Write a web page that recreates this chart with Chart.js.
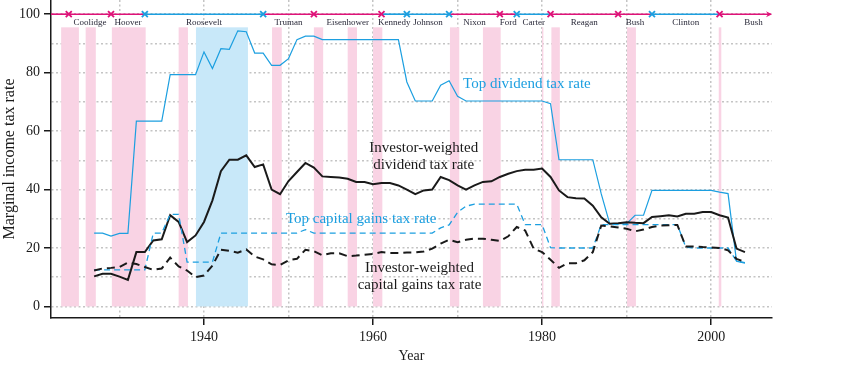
<!DOCTYPE html>
<html>
<head>
<meta charset="utf-8">
<script src="https://cdn.jsdelivr.net/npm/chart.js@4.4.1/dist/chart.umd.min.js"></script>
<style>
  html, body { margin: 0; padding: 0; background: #fff; }
  #wrap { width: 853px; height: 375px; }
</style>
</head>
<body>
<div id="wrap"><canvas id="taxChart" width="853" height="375"></canvas></div>
<script>
// --- data ---
const years = [1927, 1928, 1929, 1930, 1931, 1932, 1933, 1934, 1935, 1936,
  1937, 1938, 1939, 1940, 1941, 1942, 1943, 1944, 1945, 1946,
  1947, 1948, 1949, 1950, 1951, 1952, 1953, 1954, 1955, 1956,
  1957, 1958, 1959, 1960, 1961, 1962, 1963, 1964, 1965, 1966,
  1967, 1968, 1969, 1970, 1971, 1972, 1973, 1974, 1975, 1976,
  1977, 1978, 1979, 1980, 1981, 1982, 1983, 1984, 1985, 1986,
  1987, 1988, 1989, 1990, 1991, 1992, 1993, 1994, 1995, 1996,
  1997, 1998, 1999, 2000, 2001, 2002, 2003, 2004];

const topDividend = [25.1, 25.1, 24.1, 25, 25, 63.4, 63.4, 63.4, 63.4, 79.3,
  79.3, 79.3, 79.3, 87.1, 81.4, 88.2, 88, 94.3, 94, 86.7,
  86.7, 82.5, 82.5, 84.8, 91.3, 92.5, 92.5, 91.3, 91.3, 91.3,
  91.3, 91.3, 91.3, 91.3, 91.3, 91.3, 91.3, 76.8, 70.3, 70.3,
  70.3, 75.7, 77.2, 71.9, 70.3, 70.3, 70.3, 70.3, 70.3, 70.3,
  70.3, 70.3, 70.3, 70.3, 69.4, 50.2, 50.2, 50.2, 50.2, 50.2,
  38.5, 28.3, 28.3, 28.3, 31.2, 31.2, 39.7, 39.7, 39.7, 39.7,
  39.7, 39.7, 39.7, 39.7, 39.1, 38.6, 15.5, 14.8];

const topCapGains = [12.5, 12.5, 12.5, 12.5, 12.5, 12.5, 12.5, 25.1, 25.1, 31.5,
  31.5, 15.2, 15.2, 15.2, 15.2, 25.1, 25.1, 25.1, 25.1, 25.1,
  25.1, 25.1, 25.1, 25.1, 25.1, 26.3, 25.1, 25.1, 25.1, 25.1,
  25.1, 25.1, 25.1, 25.1, 25.1, 25.1, 25.1, 25.1, 25.1, 25.1,
  25.1, 26.9, 27.9, 32.2, 34.3, 35, 35, 35, 35, 35,
  35, 28, 28, 28, 20.1, 20, 20, 20, 20, 20,
  28, 28, 28, 28, 28, 28, 28, 28, 28, 28,
  20.3, 20, 20, 20, 20, 20, 15.5, 15];

const invDividend = [10.3, 11.2, 11.2, 10.2, 9.1, 18.6, 18.6, 22.6, 23, 31.2,
  28.9, 22, 24.3, 28.9, 36.3, 46.3, 50.2, 50.2, 51.7, 47.7,
  48.6, 40, 38.4, 42.9, 46, 49.1, 47.5, 44.5, 44.3, 44.1,
  43.7, 42.6, 42.6, 41.8, 42.2, 42.2, 41.4, 40, 38.4, 39.7,
  40, 44.3, 43.2, 41.4, 40, 41.4, 42.6, 42.8, 44.3, 45.4,
  46.3, 46.8, 46.8, 47.2, 44.3, 39.7, 37.4, 37, 36.9, 34.5,
  30.5, 28.3, 28.5, 28.8, 28.6, 28.5, 30.6, 30.9, 31.2, 30.8,
  31.7, 31.7, 32.3, 32.3, 31.2, 30.4, 19.8, 18.6];

const invCapGains = [12.3, 13, 13.2, 13.5, 15, 14.5, 13.5, 12.5, 13, 16.7,
  13.7, 12.3, 10, 10.6, 14, 19.4, 19, 18.4, 19.5, 17.1,
  16.1, 14.4, 14.2, 15.8, 16.3, 19.4, 18.9, 17.5, 18.2, 18.2,
  17.2, 17.4, 17.7, 18, 18.6, 18.3, 18.3, 18.5, 18.5, 18.8,
  19.8, 21.5, 22.8, 22, 22.8, 23.2, 23.2, 22.8, 22.4, 24,
  27.2, 26, 19.8, 18.6, 16, 13.2, 14.8, 14.8, 15.8, 18.6,
  27.7, 27.4, 27, 26.6, 25.7, 26.3, 27.2, 27.7, 27.8, 27.9,
  20.5, 20.5, 20.3, 20.2, 20, 19.2, 16.3, 15.2];

const xTicks = [1930, 1940, 1950, 1960, 1970, 1980, 1990, 2000];
const yTicks = [0, 10, 20, 30, 40, 50, 60, 70, 80, 90, 100];

// shaded periods (recessions pink, war blue)
const recessionStart = [1923.1, 1926.0, 1929.1, 1937.0, 1948.05, 1953.0, 1957.0, 1960.0, 1969.1, 1973.0, 1980.0, 1981.1, 1990.05, 2000.9];
const recessionEnd   = [1925.2, 1927.2, 1933.1, 1938.1, 1949.2, 1954.1, 1958.1, 1961.1, 1970.2, 1975.1, 1980.15, 1982.1, 1991.1, 2001.2];
const warStart = 1939.05;
const warEnd = 1945.2;
const shadeTop = 95.5;

// presidents along the top
const presidents = ['Coolidge', 'Hoover', 'Roosevelt', 'Truman', 'Eisenhower', 'Kennedy', 'Johnson',
  'Nixon', 'Ford', 'Carter', 'Reagan', 'Bush', 'Clinton', 'Bush'];
const termStart = [1924, 1929, 1933, 1947, 1953, 1961, 1964, 1969, 1975, 1977, 1981, 1989, 1993, 2001];
const termEnd   = [1929, 1933, 1947, 1953, 1961, 1964, 1969, 1975, 1977, 1981, 1989, 1993, 2001, 2009];
const lineParty   = ['R', 'R', 'D', 'R', 'R', 'D', 'D', 'R', 'R', 'D', 'R', 'R', 'D', 'R'];
const markerParty = ['R', 'R', 'D', 'D', 'R', 'R', 'D', 'D', 'R', 'D', 'R', 'R', 'D', 'R'];

const BLUE = '#1c9fe0';
const PINK = '#df1279';
const partyColor = { R: PINK, D: BLUE };
const SERIF = '"Liberation Serif", "DejaVu Serif", serif';

const toPoints = (vals) => vals.map((v, i) => ({ x: years[i], y: v }));

const shading = {
  id: 'shading',
  beforeDatasetsDraw(chart) {
    const { ctx, scales: { x, y } } = chart;
    const top = y.getPixelForValue(shadeTop);
    const bot = y.getPixelForValue(0);
    ctx.save();
    ctx.fillStyle = '#f9d3e4';
    for (let i = 0; i < recessionStart.length; i++) {
      const a = x.getPixelForValue(recessionStart[i]);
      const b = x.getPixelForValue(recessionEnd[i]);
      ctx.fillRect(a, top, Math.max(b - a, 1), bot - top);
    }
    ctx.fillStyle = '#c8e8f9';
    const wa = x.getPixelForValue(warStart);
    const wb = x.getPixelForValue(warEnd);
    ctx.fillRect(wa, top, wb - wa, bot - top);
    ctx.restore();
  }
};

const annotations = [
  { lines: ['Top dividend tax rate'], x: 1978.2, y: 76.0, color: BLUE },
  { lines: ['Investor-weighted', 'dividend tax rate'], x: 1966.0, y: 54.3, color: '#1a1a1a' },
  { lines: ['Top capital gains tax rate'], x: 1958.6, y: 29.8, color: BLUE },
  { lines: ['Investor-weighted', 'capital gains tax rate'], x: 1965.5, y: 13.1, color: '#1a1a1a' }
];

const overlay = {
  id: 'overlay',
  afterDatasetsDraw(chart) {
    const { ctx, scales: { x, y } } = chart;
    const yy = y.getPixelForValue(100);
    const xmax = x.getPixelForValue(x.max);
    ctx.save();
    ctx.lineWidth = 1.6;
    // line before first term
    ctx.strokeStyle = partyColor[lineParty[0]];
    ctx.beginPath();
    ctx.moveTo(x.getPixelForValue(x.min), yy);
    ctx.lineTo(x.getPixelForValue(termStart[0]), yy);
    ctx.stroke();
    for (let i = 0; i < presidents.length; i++) {
      const a = x.getPixelForValue(termStart[i]);
      const b = Math.min(x.getPixelForValue(termEnd[i]), xmax - 1);
      ctx.strokeStyle = partyColor[lineParty[i]];
      ctx.beginPath();
      ctx.moveTo(a, yy);
      ctx.lineTo(b, yy);
      ctx.stroke();
    }
    // arrow head
    ctx.fillStyle = partyColor[lineParty[lineParty.length - 1]];
    ctx.beginPath();
    ctx.moveTo(xmax, yy);
    ctx.lineTo(xmax - 6, yy - 3);
    ctx.lineTo(xmax - 4, yy);
    ctx.lineTo(xmax - 6, yy + 3);
    ctx.closePath();
    ctx.fill();
    // markers
    ctx.lineWidth = 1.8;
    for (let i = 0; i < presidents.length; i++) {
      const a = x.getPixelForValue(termStart[i]);
      ctx.strokeStyle = partyColor[markerParty[i]];
      ctx.beginPath();
      ctx.moveTo(a - 3, yy - 3); ctx.lineTo(a + 3, yy + 3);
      ctx.moveTo(a - 3, yy + 3); ctx.lineTo(a + 3, yy - 3);
      ctx.stroke();
    }
    // names
    ctx.font = '9px ' + SERIF;
    ctx.fillStyle = '#2a2a3a';
    ctx.textAlign = 'center';
    ctx.textBaseline = 'middle';
    for (let i = 0; i < presidents.length; i++) {
      const mid = (termStart[i] + termEnd[i]) / 2;
      ctx.fillText(presidents[i], x.getPixelForValue(mid), yy + 8);
    }
    // series labels
    ctx.font = '15px ' + SERIF;
    annotations.forEach(a => {
      ctx.fillStyle = a.color;
      const px = x.getPixelForValue(a.x);
      const py = y.getPixelForValue(a.y);
      a.lines.forEach((t, j) => ctx.fillText(t, px, py + j * 17));
    });
    ctx.restore();
  }
};

const gridGrey = '#c4c4c4';
const noPad = (s) => { s.paddingTop = 0; s.paddingBottom = 0; s.paddingLeft = 0; s.paddingRight = 0; };

new Chart(document.getElementById('taxChart').getContext('2d'), {
  type: 'line',
  data: {
    datasets: [
      { label: 'Investor-weighted capital gains tax rate', data: toPoints(invCapGains),
        borderColor: '#1a1a1a', borderWidth: 2, borderDash: [8, 5], pointRadius: 0, tension: 0 },
      { label: 'Top capital gains tax rate', data: toPoints(topCapGains),
        borderColor: BLUE, borderWidth: 1.3, borderDash: [6, 4], pointRadius: 0, tension: 0 },
      { label: 'Investor-weighted dividend tax rate', data: toPoints(invDividend),
        borderColor: '#1a1a1a', borderWidth: 2, pointRadius: 0, tension: 0 },
      { label: 'Top dividend tax rate', data: toPoints(topDividend),
        borderColor: BLUE, borderWidth: 1.2, pointRadius: 0, tension: 0 }
    ]
  },
  options: {
    responsive: false,
    animation: false,
    devicePixelRatio: 1,
    layout: { padding: { left: 0, right: 81, top: 0, bottom: 0 } },
    plugins: {
      legend: { display: false },
      tooltip: { enabled: false }
    },
    scales: {
      x: {
        type: 'linear',
        min: 1921.9,
        max: 2007.2,
        afterBuildTicks: (s) => { s.ticks = xTicks.map(v => ({ value: v })); },
        afterFit: (s) => { s.height = 57; noPad(s); },
        border: { display: true, color: '#1a1a1a', width: 1.5, dash: [2, 2.5] },
        grid: {
          color: gridGrey,
          lineWidth: 1.5,
          tickLength: 7,
          tickColor: (c) => (c.tick && c.tick.value % 20 === 0 ? '#1a1a1a' : 'rgba(0,0,0,0)'),
          tickWidth: 1.5
        },
        ticks: {
          autoSkip: false,
          maxRotation: 0,
          padding: 4,
          color: '#1a1a1a',
          font: { family: SERIF, size: 14 },
          callback: (v) => (v % 20 === 0 ? String(v) : '')
        },
        title: {
          display: true,
          text: 'Year',
          color: '#1a1a1a',
          font: { family: SERIF, size: 14 },
          padding: { top: 0, bottom: 10 }
        }
      },
      y: {
        min: -3.95,
        max: 104.85,
        afterBuildTicks: (s) => { s.ticks = yTicks.map(v => ({ value: v })); },
        afterFit: (s) => { s.width = 51; noPad(s); },
        border: { display: true, color: '#1a1a1a', width: 1.5, dash: [2, 2.5] },
        grid: {
          color: gridGrey,
          lineWidth: 1.5,
          tickLength: 7,
          tickColor: (c) => (c.tick && c.tick.value % 20 === 0 ? '#1a1a1a' : 'rgba(0,0,0,0)'),
          tickWidth: 1.5
        },
        ticks: {
          padding: 4,
          color: '#1a1a1a',
          font: { family: SERIF, size: 14 },
          callback: (v) => (v % 20 === 0 ? String(v) : '')
        },
        title: {
          display: true,
          text: 'Marginal income tax rate',
          color: '#1a1a1a',
          font: { family: SERIF, size: 16 },
          padding: { top: 0, bottom: 0 }
        }
      }
    }
  },
  plugins: [shading, overlay]
});
</script>
</body>
</html>
